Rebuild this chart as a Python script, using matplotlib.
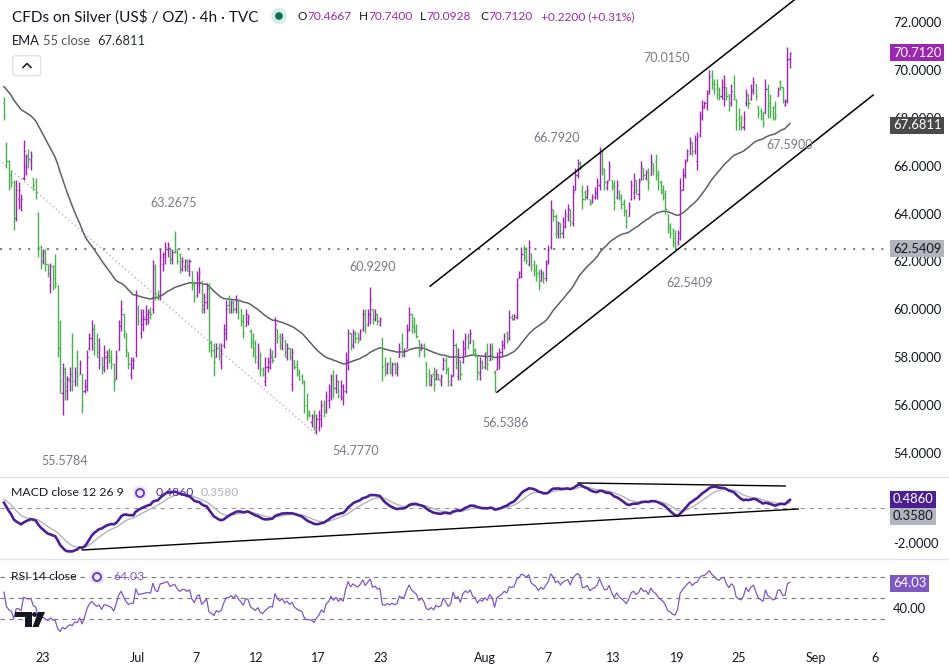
import numpy as np
import matplotlib
matplotlib.use("Agg")
import matplotlib.pyplot as plt
from matplotlib.collections import LineCollection
from matplotlib.patches import Polygon, Circle, FancyBboxPatch
from matplotlib.lines import Line2D
from matplotlib.ticker import FormatStrFormatter
from matplotlib.transforms import Affine2D, blended_transform_factory, offset_copy

# 4h OHLC bars
opens = [
    68.6, 66.9, 66.2, 65.6, 65.3, 63.8, 64.6, 64.3, 65.5, 66.0,
    66.4, 66.2, 65.5, 65.3, 64.0, 62.6, 62.0, 62.4, 61.9, 61.0,
    61.8, 61.8, 61.0, 58.4, 56.5, 57.4, 56.6, 57.0, 58.5, 57.0, 58.0,
    57.3, 57.3, 56.6, 56.8, 58.4, 58.8, 59.2, 58.7, 58.0, 58.0,
    57.6, 58.0, 58.2, 58.0, 57.7, 57.1, 58.3, 59.3, 59.8, 59.0,
    58.2, 57.3, 57.6, 58.2, 60.0, 59.0, 59.4, 59.6, 59.6, 59.9, 60.0,
    61.8, 60.6, 60.6, 61.9, 62.2, 62.5, 62.5, 62.1, 63.0, 62.4,
    62.3, 61.7, 61.8, 62.0, 61.6, 61.6, 61.1, 60.6, 61.0, 61.2,
    60.0, 60.3, 60.9, 58.6, 58.3, 58.0, 58.4, 57.8, 58.5, 59.0,
    60.2, 59.9, 60.3, 60.0, 60.4, 60.0, 59.5, 59.3, 59.5, 59.1,
    58.7, 58.4, 57.8, 58.1, 57.5, 57.0, 57.6, 57.6, 58.1, 58.0, 59.2,
    58.9, 58.4, 58.7, 58.0, 58.4, 56.9, 57.9, 57.7, 57.4, 57.2,
    57.0, 56.0, 55.7, 55.3, 55.6, 54.9, 55.1, 55.4, 56.0, 55.8,
    56.2, 56.4, 57.2, 56.7, 57.0, 56.4, 56.3, 56.6, 57.9, 59.0,
    58.5, 59.0, 59.0, 58.8, 59.2, 59.8, 59.4, 59.8, 60.0, 59.6, 59.8,
    59.4, 58.8, 57.7, 57.4, 57.8, 57.4, 57.7, 57.4, 58.0, 58.6,
    58.1, 58.4, 59.2, 59.8, 59.3, 59.2, 58.7, 58.3, 58.5, 57.8,
    57.3, 56.9, 57.3, 57.1, 57.3, 57.0, 57.5, 57.9, 57.5, 56.9,
    57.2, 58.5, 57.2, 57.9, 57.8, 58.4, 58.9, 58.6, 58.7, 58.3,
    58.1, 57.3, 57.8, 57.6, 58.2, 57.9, 58.4, 57.4, 57.5, 57.8,
    58.2, 58.5, 59.0, 58.8, 59.7, 59.6, 59.7, 61.3, 61.4,
    62.5, 62.4, 61.9, 62.3, 61.9, 61.7, 61.5, 61.2, 61.5, 61.3,
    62.0, 62.6, 64.1, 63.9, 63.2, 63.6, 63.2, 63.5, 63.9, 64.2,
    63.6, 65.0, 65.6, 66.1, 65.0, 64.9, 64.7, 64.6, 64.5, 64.7,
    64.8, 65.2, 66.6, 65.8, 65.1, 65.4, 65.4, 65.2, 64.7, 64.9,
    64.7, 64.5, 64.1, 63.9, 64.6, 64.9, 65.4, 64.8, 65.4, 65.9,
    65.5, 65.8, 65.6, 66.1, 66.2, 65.7, 65.3, 65.0, 64.8, 64.0,
    63.5, 63.3, 63.0, 62.8, 63.0, 65.0, 65.6, 66.2, 66.5, 67.0,
    66.6, 66.2, 67.3, 68.0, 68.4, 68.5, 69.1, 69.8, 69.5,
    69.4, 69.2, 68.9, 68.8, 69.3, 69.0, 68.6, 69.5, 68.8,
    68.0, 67.8, 67.6, 68.6, 69.0, 68.8, 69.1, 69.4, 68.5, 68.3,
    68.1, 68.2, 69.2, 68.6, 68.4, 68.5, 68.9, 69.5, 69.3,
    68.55, 68.7, 70.4667,
]
highs = [
    68.87, 67.0, 66.24, 65.8, 65.4, 65.4, 65.3, 64.8, 67.07, 66.5,
    66.7, 66.6, 65.5, 65.5, 64.06, 62.7, 62.5, 62.5, 61.9, 61.95,
    61.85, 62.3, 61.0, 59.55, 57.76, 57.6, 57.2, 57.6, 59.0, 57.6, 58.3,
    57.9, 57.3, 57.1, 58.3, 59.0, 59.55, 59.4, 59.0, 58.8, 58.0,
    58.5, 58.3, 58.4, 58.3, 57.76, 58.3, 59.55, 60.4, 59.8, 59.0,
    58.2, 58.0, 58.0, 60.8, 60.2, 60.0, 60.0, 60.2, 60.0, 60.1, 62.06,
    61.9, 60.8, 62.5, 62.4, 62.8, 62.8, 62.6, 62.5, 63.27, 62.5,
    62.35, 62.2, 62.1, 62.1, 62.1, 61.6, 61.2, 61.6, 61.75, 61.2,
    60.7, 61.1, 61.1, 58.7, 58.6, 58.6, 58.6, 58.6, 59.4, 60.4,
    60.6, 60.4, 60.4, 60.6, 60.4, 60.0, 59.8, 60.0, 59.8, 59.2,
    59.0, 58.7, 58.6, 58.2, 57.6, 58.0, 58.0, 58.4, 58.3, 59.7, 59.2,
    59.0, 59.0, 58.7, 58.6, 58.4, 58.4, 57.9, 57.9, 57.5, 57.3,
    57.05, 56.5, 55.8, 55.65, 55.8, 55.65, 55.8, 56.2, 56.2, 56.6,
    56.9, 57.3, 57.46, 57.3, 57.05, 57.05, 56.9, 58.2, 59.2, 59.0,
    59.2, 59.1, 59.0, 59.2, 60.0, 60.0, 60.0, 60.93, 60.0, 60.0, 59.8,
    59.7, 58.8, 58.0, 57.8, 58.0, 57.8, 57.8, 57.8, 58.6, 59.0,
    58.4, 59.4, 60.1, 59.8, 59.7, 59.4, 58.7, 58.6, 58.6, 57.8,
    57.5, 57.3, 57.6, 57.5, 57.3, 57.3, 58.0, 58.0, 57.6, 57.3,
    59.2, 58.6, 58.4, 57.9, 58.7, 59.0, 59.0, 59.2, 58.7, 58.4,
    58.1, 58.0, 57.9, 58.2, 58.6, 58.6, 58.6, 57.46, 58.2, 58.4,
    58.7, 59.0, 59.1, 59.97, 59.8, 59.8, 61.3, 61.6, 62.6,
    62.7, 62.6, 62.9, 62.35, 62.06, 61.9, 61.7, 61.7, 61.6, 62.06,
    62.7, 64.56, 64.2, 64.0, 63.7, 63.6, 63.85, 64.2, 64.4, 64.2,
    65.2, 65.9, 66.3, 66.2, 65.2, 64.98, 65.2, 64.6, 64.8, 65.1,
    65.5, 66.79, 66.65, 65.9, 65.4, 66.2, 65.4, 65.4, 65.4, 64.98,
    64.8, 64.6, 64.2, 64.5, 65.4, 65.7, 65.4, 65.5, 66.2, 65.9,
    65.8, 65.9, 66.5, 66.1, 66.5, 65.8, 65.4, 65.2, 64.98, 64.0,
    63.6, 63.4, 63.3, 63.3, 65.5, 65.9, 66.3, 66.7, 67.2, 67.0,
    67.3, 67.4, 68.3, 68.74, 68.7, 69.16, 70.0, 70.0, 69.6,
    69.6, 69.3, 69.6, 69.8, 69.3, 69.0, 69.4, 69.8, 68.8,
    68.4, 68.1, 68.3, 69.2, 69.0, 69.4, 69.7, 69.4, 68.5, 68.4,
    68.3, 69.6, 69.4, 69.0, 68.5, 68.7, 69.3, 69.58, 69.3,
    68.8, 70.96, 70.74,
]
lows = [
    67.91, 65.9, 65.0, 65.1, 63.3, 63.7, 64.2, 64.1, 65.4, 65.6,
    65.9, 65.8, 65.0, 64.6, 62.2, 61.7, 61.9, 61.6, 61.35, 60.7,
    60.8, 60.9, 58.0, 56.5, 55.58, 56.2, 56.2, 56.6, 56.6, 56.8, 56.8,
    57.3, 55.67, 56.5, 56.6, 58.3, 58.3, 58.1, 58.0, 57.5, 57.3,
    57.4, 57.5, 57.75, 57.5, 56.6, 57.1, 58.3, 59.1, 58.8, 58.0,
    57.5, 57.1, 57.5, 58.0, 59.35, 58.8, 59.1, 59.35, 59.4, 59.6, 59.84,
    60.4, 60.4, 60.4, 61.6, 61.9, 62.2, 61.9, 61.9, 62.35, 61.9,
    61.5, 61.6, 61.6, 61.6, 61.4, 60.8, 60.3, 60.5, 60.7, 59.85,
    59.85, 60.0, 58.2, 58.0, 57.2, 58.0, 57.9, 57.5, 58.4, 58.7,
    59.85, 59.85, 59.85, 59.85, 59.6, 59.3, 58.8, 59.3, 59.35, 58.4,
    58.0, 57.75, 57.5, 57.2, 57.2, 56.8, 57.4, 57.5, 57.75, 58.0, 58.6,
    58.35, 58.3, 58.0, 57.9, 57.9, 56.6, 57.5, 57.2, 57.05, 56.9,
    55.67, 55.38, 55.5, 55.1, 54.96, 54.78, 54.9, 55.1, 55.5, 55.67,
    55.9, 56.2, 56.3, 56.5, 56.3, 56.2, 56.0, 56.5, 57.46, 58.3,
    58.4, 58.6, 58.6, 58.7, 59.1, 59.0, 59.3, 59.4, 59.4, 59.5, 59.35,
    59.3, 57.0, 57.2, 57.3, 57.3, 57.2, 57.3, 57.2, 58.0, 58.0,
    58.0, 58.4, 59.1, 59.0, 59.0, 58.8, 58.0, 58.3, 58.0, 56.8,
    56.8, 56.8, 56.6, 57.05, 57.05, 56.8, 57.46, 57.3, 56.8, 56.8,
    57.2, 57.5, 57.05, 57.05, 57.75, 58.1, 58.35, 58.6, 58.1, 58.0,
    57.05, 57.05, 57.5, 57.5, 57.46, 57.9, 57.9, 56.54, 57.46, 57.5,
    58.0, 58.35, 58.6, 58.7, 59.55, 59.55, 59.6, 61.3, 61.3,
    62.0, 61.9, 61.8, 61.6, 61.4, 61.2, 60.8, 61.2, 61.1, 61.2,
    61.9, 62.5, 63.7, 63.0, 63.0, 63.0, 63.0, 63.4, 63.7, 63.5,
    63.5, 64.98, 65.5, 65.8, 64.2, 64.56, 64.6, 64.35, 64.45, 64.6,
    64.6, 65.0, 65.6, 65.0, 65.0, 65.4, 65.0, 64.15, 64.6, 64.56,
    64.2, 63.9, 63.4, 63.9, 64.56, 64.6, 64.8, 64.56, 65.4, 65.4,
    65.4, 65.0, 65.6, 65.6, 65.4, 65.0, 64.8, 64.56, 64.0, 63.2,
    63.0, 62.6, 62.54, 62.7, 62.9, 64.98, 65.5, 66.2, 66.5, 66.4,
    66.5, 65.8, 67.2, 67.9, 68.4, 68.32, 69.0, 69.2, 69.0,
    68.8, 68.74, 68.8, 68.5, 68.74, 68.3, 68.5, 68.74, 67.5,
    67.5, 67.5, 67.5, 68.5, 68.4, 68.74, 69.0, 68.74, 68.0, 67.9,
    67.6, 68.2, 68.0, 68.0, 67.9, 67.9, 68.9, 69.16, 68.6,
    68.5, 68.6, 70.0928,
]
closes = [
    68.1, 66.2, 65.6, 65.3, 63.8, 65.0, 65.0, 64.6, 66.6, 66.4,
    66.3, 66.4, 65.2, 64.9, 62.6, 62.3, 62.4, 61.9, 61.5, 61.8,
    61.3, 61.1, 58.4, 57.0, 57.5, 56.8, 57.1, 57.3, 57.0, 57.4, 57.2,
    57.7, 56.0, 56.8, 58.0, 58.8, 59.2, 58.6, 58.2, 58.4, 57.5,
    58.2, 58.1, 57.9, 57.7, 57.0, 58.0, 59.3, 60.0, 59.1, 58.3,
    57.7, 57.9, 57.9, 60.5, 59.5, 59.6, 59.7, 59.8, 59.9, 59.8, 61.7,
    60.7, 60.5, 62.2, 62.3, 62.6, 62.7, 62.1, 62.4, 62.5, 62.0,
    61.7, 62.0, 62.0, 61.8, 62.0, 61.0, 60.5, 61.3, 61.5, 60.2,
    60.5, 60.9, 58.6, 58.3, 57.8, 58.4, 58.1, 58.3, 59.2, 60.0,
    60.0, 60.3, 60.0, 60.4, 59.9, 59.5, 59.0, 59.8, 59.7, 58.6,
    58.3, 58.0, 58.3, 57.5, 57.3, 57.6, 57.8, 58.0, 57.9, 59.4, 58.8,
    58.5, 58.8, 58.2, 58.4, 58.0, 58.2, 57.6, 57.3, 57.1, 57.0,
    56.0, 55.6, 55.6, 55.5, 55.1, 55.4, 55.6, 56.0, 55.7, 56.4,
    56.6, 57.1, 56.7, 57.0, 56.6, 56.8, 56.6, 57.9, 59.0, 58.5,
    59.0, 58.8, 58.7, 59.1, 59.8, 59.3, 59.8, 60.4, 59.6, 59.8, 59.5,
    59.6, 57.6, 57.5, 57.7, 57.5, 57.7, 57.5, 57.6, 58.4, 58.2,
    58.3, 59.1, 59.8, 59.3, 59.1, 58.9, 58.2, 58.5, 58.1, 57.2,
    57.0, 57.2, 56.9, 57.3, 57.1, 57.2, 57.9, 57.5, 57.0, 57.2,
    58.5, 57.8, 58.0, 57.3, 58.4, 58.8, 58.6, 59.0, 58.3, 58.1,
    57.4, 57.8, 57.6, 58.0, 57.7, 58.4, 58.0, 56.7, 58.0, 58.2,
    58.5, 58.9, 58.7, 59.7, 59.6, 59.75, 61.0, 61.5, 62.3,
    62.2, 62.0, 62.6, 61.8, 61.6, 61.4, 61.0, 61.5, 61.3, 61.9,
    62.5, 64.2, 63.9, 63.3, 63.6, 63.2, 63.7, 64.0, 64.2, 63.7,
    64.9, 65.6, 66.1, 65.9, 64.6, 64.7, 65.0, 64.4, 64.7, 64.9,
    65.3, 66.5, 65.9, 65.3, 65.3, 66.0, 65.1, 64.5, 65.2, 64.7,
    64.4, 64.1, 63.7, 64.3, 65.2, 65.4, 65.0, 65.3, 66.0, 65.6,
    65.7, 65.3, 66.2, 65.8, 65.6, 65.2, 64.9, 64.7, 64.2, 63.4,
    63.2, 62.8, 62.7, 63.2, 65.0, 65.6, 66.1, 66.6, 67.0, 66.6,
    67.1, 67.2, 68.1, 68.5, 68.6, 69.0, 69.7, 69.4, 69.2,
    69.0, 68.9, 69.3, 69.4, 68.9, 68.6, 69.1, 68.9, 67.9,
    67.7, 67.6, 68.0, 69.0, 68.6, 69.2, 69.5, 68.9, 68.2, 68.0,
    67.8, 69.2, 68.5, 68.3, 68.0, 68.1, 69.2, 69.3, 68.7,
    68.7, 70.47, 70.712,
]

# indicator settings and the values they start from at the left edge
ema_len, ema_start = 55, 69.3
macd_fast, macd_slow, macd_sig = 12, 26, 9
fast_start, slow_start, sig_start = 68.9, 68.6, 0.5
rsi_len, gain_start, loss_start = 14, 0.25, 0.2

# labels shown on the chart (positions in bar numbers)
date_pos = [16.0, 54.5, 78.7, 103.3, 128.7, 154.5, 197.1, 223.0, 249.6, 275.8, 300.8, 332.8, 357.0]
date_labels = ["23", "Jul", "7", "12", "17", "23", "Aug", "7", "13", "19", "25", "Sep", "6"]
swing_idx = [25.0, 69.3, 151.2, 143.9, 205.7, 226.6, 271.3, 281.1, 321.7]
swing_price = [53.66, 64.44, 61.77, 54.08, 55.25, 67.15, 70.5, 61.1, 66.86]
swing_text = ["55.5784", "63.2675", "60.9290", "54.7770", "56.5386",
              "66.7920", "70.0150", "62.5409", "67.5900"]
support_level = 62.5409
ema_last, macd_last, signal_last, rsi_last = 67.6811, 0.4860, 0.3580, 64.03
ohlc_keys = ["O", "H", "L", "C"]
ohlc_vals = ["70.4667", "70.7400", "70.0928", "70.7120"]
change_text = "+0.2200 (+0.31%)"

# hand-drawn lines: (start bar, start value, end bar, end value)
chan_upper = (174.6, 60.97, 330, 73.42)
chan_lower = (202.0, 56.54, 356.1, 68.95)
down_dotted = (-2, 66.25, 128.3, 54.75)
macd_lower = (32.0, -2.4, 325.4, -0.057)
macd_upper = (235.2, 1.43, 320.1, 1.257)


def ema(values, n, start):
    a = 2.0 / (n + 1)
    out = [start]
    for v in values[1:]:
        out.append(out[-1] + a * (v - out[-1]))
    return np.array(out)


c = np.array(closes)
ema55 = ema(c, ema_len, ema_start)
macd = ema(c, macd_fast, fast_start) - ema(c, macd_slow, slow_start)
signal = ema(macd, macd_sig, sig_start)
signal[0] = sig_start

gains, losses = [gain_start], [loss_start]
for d in np.diff(c):
    gains.append((gains[-1] * (rsi_len - 1) + max(d, 0)) / rsi_len)
    losses.append((losses[-1] * (rsi_len - 1) + max(-d, 0)) / rsi_len)
rsi = 100 - 100 / (1 + np.array(gains) / np.array(losses))

W, H = 949, 669
plt.rcParams["font.family"] = ["Lato", "DejaVu Sans"]
fig = plt.figure(figsize=(W / 100, H / 100), dpi=100)
fig.patch.set_facecolor("white")
PX = Affine2D().scale(1, -1).translate(0, H)  # screen pixels, origin top-left

TXT = "#131722"
GREY = "#787b86"
PURPLE = "#9c27b0"
GREEN = "#4caf50"
AXFS = 9.4

right = 885 / W
ax = fig.add_axes([0, 1 - 476 / H, right, 476 / H])
axm = fig.add_axes([0, 1 - 558 / H, right, 81 / H])
axr = fig.add_axes([0, 1 - 640 / H, right, 81 / H])

xlim = (-4 / 2.4407, (885 - 4) / 2.4407)
for a in (ax, axm, axr):
    a.set_xlim(*xlim)
    for s in a.spines.values():
        s.set_visible(False)
    a.yaxis.tick_right()
    a.tick_params(axis="y", length=0, pad=6, labelsize=AXFS, labelcolor=TXT)
    a.set_xticks([])
    a.patch.set_alpha(0)

# ---- price pane
ax.set_ylim(53.04, 72.92)
ax.set_yticks(np.arange(54, 73, 2))
ax.yaxis.set_major_formatter(FormatStrFormatter("%.4f"))

idx = np.arange(len(c))
o, h, l = np.array(opens), np.array(highs), np.array(lows)
cols = np.where(c >= o, PURPLE, GREEN)
segs, seg_cols = [], []
for i in idx:
    segs += [[(i, l[i]), (i, h[i])], [(i - 0.45, o[i]), (i, o[i])], [(i, c[i]), (i + 0.45, c[i])]]
    seg_cols += [cols[i]] * 3
ax.add_collection(LineCollection(segs, colors=seg_cols, linewidths=1.0, zorder=3))

ax.plot(idx, ema55, color="#5d606b", lw=1.1, zorder=2)
ax.axhline(support_level, color=GREY, lw=1.5, ls=(0, (1, 3.5)), zorder=1)
ax.plot(down_dotted[0::2], down_dotted[1::2], color="#b2b5be", lw=1.0, ls=(0, (1, 2)), zorder=1)
for ln in (chan_upper, chan_lower):
    ax.plot(ln[0::2], ln[1::2], color="black", lw=1.1, zorder=4)
for xi, yi, s in zip(swing_idx, swing_price, swing_text):
    ax.text(xi, yi, s, ha="center", va="center", color=GREY, fontsize=9, zorder=5)


def price_box(a, value, text, fc, tc, dy=0):
    tr = blended_transform_factory(a.transAxes, a.transData)
    if dy:
        tr = offset_copy(tr, fig=fig, y=-dy, units="dots")
    a.text(893 / 885, value, text, transform=tr, ha="left", va="center",
           fontsize=AXFS, color=tc, clip_on=False, zorder=10,
           bbox=dict(boxstyle="square,pad=0.2", fc=fc, ec="none"))


price_box(ax, closes[-1], "%.4f" % closes[-1], PURPLE, "white")
price_box(ax, ema_last, "%.4f" % ema_last, "#4a4a4a", "white")
price_box(ax, support_level, "%.4f" % support_level, "#b2b5be", TXT)

# ---- MACD pane
axm.set_ylim(-2.857, 1.771)
axm.set_yticks([-2])
axm.yaxis.set_major_formatter(FormatStrFormatter("%.4f"))
axm.axhline(0, color="#9598a1", lw=0.8, ls=(0, (4, 4)))
axm.plot(idx, signal, color="#b2b5be", lw=1.0)
axm.plot(idx, macd, color="#4b1f93", lw=1.9)
for ln in (macd_lower, macd_upper):
    axm.plot(ln[0::2], ln[1::2], color="black", lw=1.0)
price_box(axm, macd_last, "%.4f" % macd_last, "#4b1f93", "white")
price_box(axm, macd_last, "%.4f" % signal_last, "#b2b5be", TXT, dy=17)

# ---- RSI pane
axr.set_ylim(10, 87.14)
axr.set_yticks([40])
axr.yaxis.set_major_formatter(FormatStrFormatter("%.2f"))
for lvl in (70, 50, 30):
    axr.axhline(lvl, color=GREY, lw=0.8, ls=(0, (4, 4)))
axr.plot(idx, rsi, color="#7e57c2", lw=0.9)
price_box(axr, rsi_last, "%.2f" % rsi_last, "#7e57c2", "white")
axr.set_xticks(date_pos)
axr.set_xticklabels(date_labels)
axr.tick_params(axis="x", length=0, pad=9, labelsize=9, labelcolor=TXT)

# pane separators
for yy in (476.5, 558.5):
    fig.add_artist(Line2D([0, W], [yy, yy], transform=PX, color="#e0e3eb", lw=1))

# ---- legend texts
rend = fig.canvas.get_renderer()


def seq_text(x, y, parts, size):
    for s, col, gap in parts:
        t = fig.text(x, H - y, s, color=col, fontsize=size, va="center", ha="left",
                     transform=Affine2D())
        x = t.get_window_extent(renderer=rend).x1 + gap
    return x


seq_text(12, 17, [("CFDs on Silver (US$ / OZ) · 4h · TVC", TXT, 0)], 11)
fig.add_artist(Circle((279, 16), 8, transform=PX, fc="#d5ede6", ec="none"))
fig.add_artist(Circle((279, 16), 3.8, transform=PX, fc="#0b6b53", ec="none"))
for xx, key, val in zip([297, 359, 420, 480], ohlc_keys, ohlc_vals):
    seq_text(xx, 17, [(key, TXT, 0.5), (val, PURPLE, 0)], 8.6)
seq_text(541, 17, [(change_text, PURPLE, 0)], 8.6)
seq_text(12, 41, [("EMA", TXT, 3), ("55 close", "#50535e", 7), ("%.4f" % ema_last, "#2a2e39", 0)], 9.3)
fig.add_artist(FancyBboxPatch((12.7, 55.7), 28, 20, transform=PX, boxstyle="round,pad=0,rounding_size=3",
                              fc="white", ec="#e0e3eb", lw=1))
fig.add_artist(Line2D([23, 27, 31], [67.5, 63.5, 67.5], transform=PX, color=TXT, lw=1.1))


def loop_icon(x, y):
    fig.add_artist(Circle((x, y), 7.5, transform=PX, fc="#ede7f6", ec="none"))
    fig.add_artist(Circle((x, y), 4, transform=PX, fc="none", ec="#6a3fc0", lw=1.4))


seq_text(11, 493, [("MACD close 12 26 9", TXT, 0)], 8.8)
loop_icon(140, 493)
seq_text(156, 493, [("%.4f" % macd_last, "#5b2aa8", 6), ("%.4f" % signal_last, "#b2b5be", 0)], 8.8)
seq_text(11, 577, [("RSI 14 close", TXT, 0)], 8.8)
loop_icon(97, 577)
seq_text(113, 577, [("%.2f" % rsi_last, "#7e57c2", 0)], 8.8)

# TradingView logo
fig.add_artist(Polygon([(15, 612), (32, 612), (32, 627), (25, 627), (25, 617), (15, 617)],
                       closed=True, transform=PX, fc="#131722", ec="none"))
fig.add_artist(Circle((34.5, 614.5), 2.4, transform=PX, fc="#131722", ec="none"))
fig.add_artist(Polygon([(38, 612), (45, 612), (38.5, 627), (32.5, 627)],
                       closed=True, transform=PX, fc="#131722", ec="none"))

fig.savefig("out.png", dpi=100, facecolor="white")
